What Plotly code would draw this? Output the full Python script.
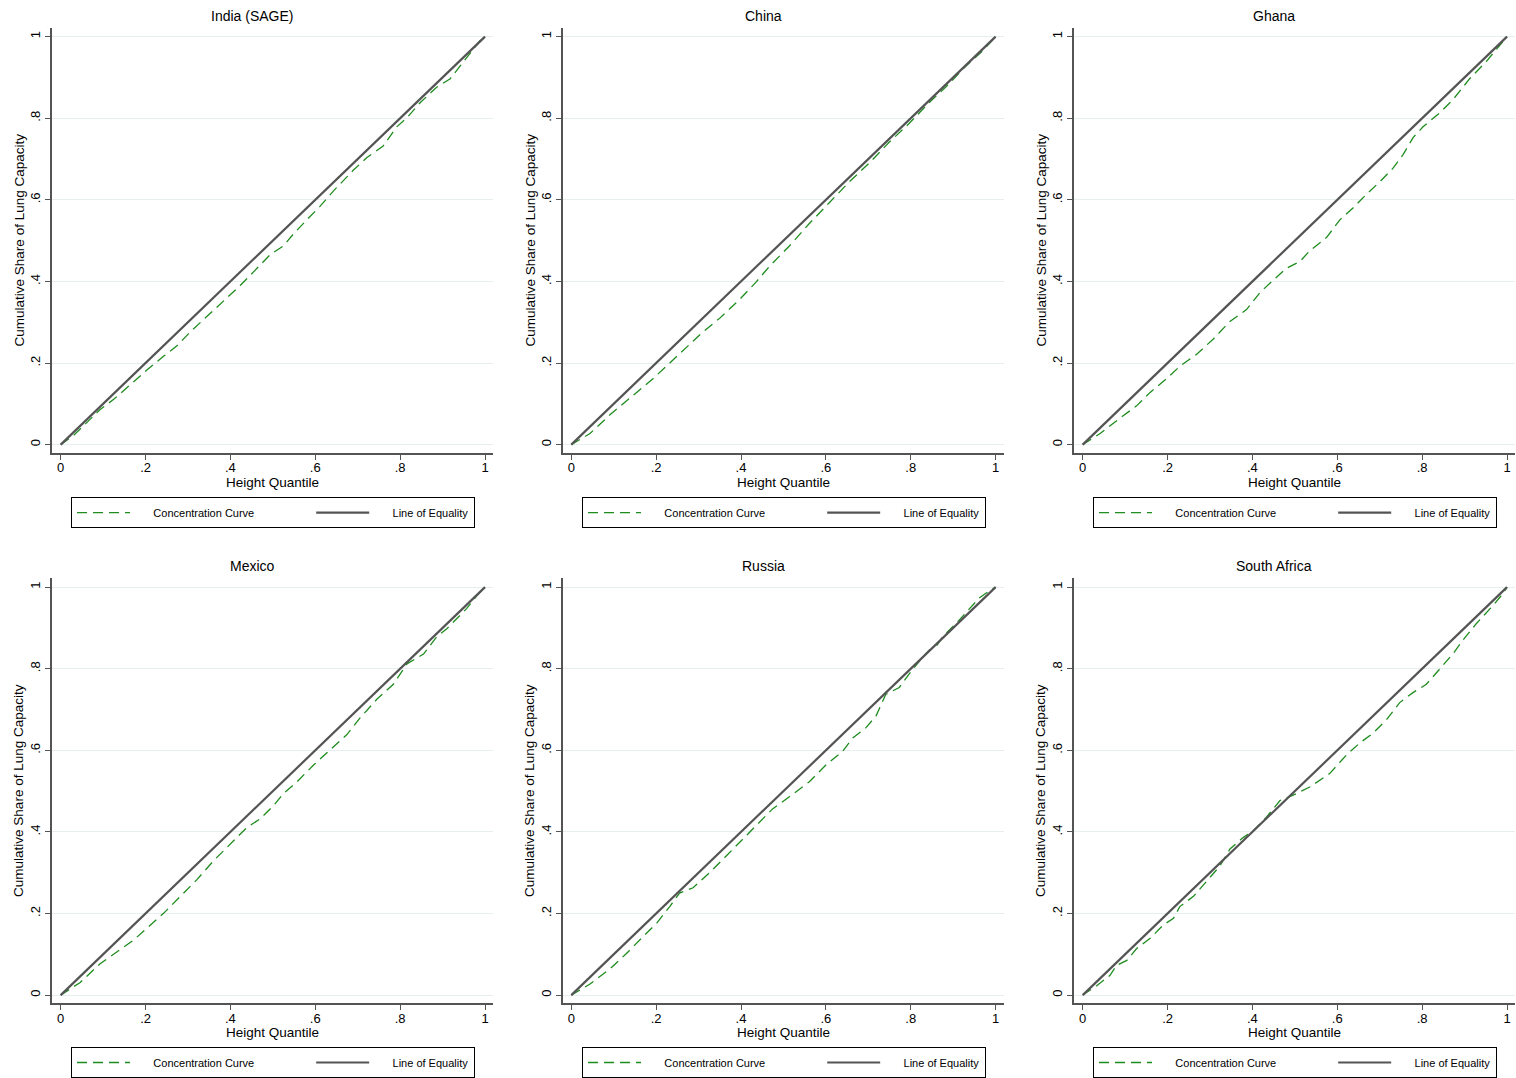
import plotly.graph_objects as go

W, H = 1516, 1078

COUNTRIES = ["India (SAGE)", "China", "Ghana", "Mexico", "Russia", "South Africa"]

INDIA_X = [0, 0.03, 0.093, 0.125, 0.172, 0.203, 0.243, 0.274, 0.305, 0.345, 0.392, 0.423, 0.455, 0.478, 0.494, 0.525, 0.549, 0.58, 0.611, 0.643, 0.69, 0.721, 0.76, 0.792, 0.815, 0.847, 0.886, 0.918, 0.949, 0.988, 1]
INDIA_Y = [0, 0.022, 0.086, 0.111, 0.154, 0.183, 0.217, 0.242, 0.276, 0.314, 0.361, 0.39, 0.424, 0.449, 0.466, 0.487, 0.517, 0.551, 0.584, 0.622, 0.673, 0.703, 0.732, 0.779, 0.8, 0.838, 0.876, 0.897, 0.939, 0.99, 1]

CHINA_X = [0, 0.044, 0.091, 0.122, 0.154, 0.193, 0.232, 0.271, 0.31, 0.35, 0.397, 0.436, 0.467, 0.514, 0.561, 0.608, 0.655, 0.702, 0.749, 0.796, 0.843, 0.882, 0.929, 0.969, 1]
CHINA_Y = [0, 0.027, 0.073, 0.099, 0.128, 0.162, 0.2, 0.238, 0.276, 0.31, 0.356, 0.399, 0.437, 0.487, 0.542, 0.593, 0.644, 0.69, 0.741, 0.787, 0.838, 0.876, 0.927, 0.965, 1]

GHANA_X = [0, 0.041, 0.088, 0.127, 0.159, 0.198, 0.229, 0.268, 0.308, 0.347, 0.386, 0.418, 0.449, 0.48, 0.512, 0.535, 0.575, 0.606, 0.637, 0.669, 0.7, 0.731, 0.755, 0.779, 0.802, 0.841, 0.873, 0.912, 0.951, 0.991, 1]
GHANA_Y = [0, 0.027, 0.065, 0.095, 0.128, 0.162, 0.192, 0.221, 0.259, 0.302, 0.331, 0.373, 0.403, 0.432, 0.449, 0.475, 0.508, 0.551, 0.58, 0.614, 0.644, 0.677, 0.711, 0.753, 0.779, 0.813, 0.846, 0.897, 0.939, 0.99, 1]

MEXICO_X = [0, 0.046, 0.093, 0.133, 0.172, 0.203, 0.243, 0.282, 0.321, 0.36, 0.4, 0.439, 0.47, 0.502, 0.525, 0.557, 0.596, 0.635, 0.674, 0.706, 0.745, 0.784, 0.816, 0.855, 0.886, 0.91, 0.957, 0.98, 1]
MEXICO_Y = [0, 0.031, 0.077, 0.106, 0.135, 0.164, 0.201, 0.242, 0.283, 0.329, 0.37, 0.411, 0.432, 0.465, 0.494, 0.523, 0.564, 0.601, 0.638, 0.68, 0.725, 0.762, 0.812, 0.836, 0.878, 0.898, 0.948, 0.978, 1]

RUSSIA_X = [0, 0.044, 0.091, 0.13, 0.169, 0.201, 0.232, 0.255, 0.287, 0.326, 0.365, 0.404, 0.444, 0.475, 0.514, 0.561, 0.6, 0.639, 0.663, 0.694, 0.718, 0.741, 0.773, 0.796, 0.828, 0.843, 0.859, 0.875, 0.914, 0.961, 0.984, 1]
RUSSIA_Y = [0, 0.027, 0.064, 0.102, 0.143, 0.176, 0.217, 0.25, 0.263, 0.3, 0.341, 0.382, 0.424, 0.457, 0.486, 0.523, 0.564, 0.597, 0.63, 0.655, 0.684, 0.737, 0.754, 0.787, 0.828, 0.845, 0.853, 0.878, 0.919, 0.973, 0.99, 1]

SAFRICA_X = [0, 0.033, 0.064, 0.08, 0.104, 0.127, 0.159, 0.19, 0.214, 0.229, 0.261, 0.292, 0.323, 0.347, 0.378, 0.402, 0.433, 0.465, 0.496, 0.535, 0.582, 0.622, 0.653, 0.684, 0.716, 0.747, 0.779, 0.81, 0.841, 0.873, 0.896, 0.928, 0.967, 0.991, 1]
SAFRICA_Y = [0, 0.023, 0.048, 0.073, 0.085, 0.114, 0.139, 0.172, 0.188, 0.217, 0.242, 0.279, 0.316, 0.358, 0.386, 0.403, 0.436, 0.477, 0.49, 0.51, 0.543, 0.589, 0.618, 0.642, 0.675, 0.717, 0.742, 0.762, 0.799, 0.837, 0.87, 0.911, 0.955, 0.985, 1]

EQUALITY_X = [0, 1]
EQUALITY_Y = [0, 1]

TICK_VALS = [0, 0.2, 0.4, 0.6, 0.8, 1]
TICK_TEXT = ["0", ".2", ".4", ".6", ".8", "1"]

SERIES_NAMES = ["Concentration Curve", "Line of Equality"]

CURVES_X = [INDIA_X, CHINA_X, GHANA_X, MEXICO_X, RUSSIA_X, SAFRICA_X]
CURVES_Y = [INDIA_Y, CHINA_Y, GHANA_Y, MEXICO_Y, RUSSIA_Y, SAFRICA_Y]

FONT = "Liberation Sans, Arial, Helvetica, sans-serif"
GREEN = "#1e8c1e"
GRAY = "#545454"
NB = "\u00a0"

# pixel layout of plot areas
COL_PX = [(52, 493), (562.6, 1003.6), (1074, 1515)]
COL_CENTER = [252, 763, 1274]
ROW_PX = [(28, 453.3), (579, 1004.3)]
ROW_TITLE_Y = [16, 567]
ROW_XTITLE_Y = [483, 1033]
ROW_LEGEND_Y = [512.7, 1063.5]
YTITLE_X = [19, 530, 1041]
LEGEND_CX = [273, 784, 1295]

fig = go.Figure()
layout = dict(
    width=W, height=H,
    margin=dict(l=0, r=0, t=0, b=0),
    paper_bgcolor="white", plot_bgcolor="white",
    font=dict(family=FONT, color="black"),
    showlegend=True,
    annotations=[],
)

label1 = NB * 6 + SERIES_NAMES[0] + NB * 17
label2 = NB * 6 + SERIES_NAMES[1]

for i, name in enumerate(COUNTRIES):
    r, c = divmod(i, 3)
    n = "" if i == 0 else str(i + 1)
    leg = "legend" if i == 0 else f"legend{i+1}"
    fig.add_trace(go.Scatter(
        x=CURVES_X[i], y=CURVES_Y[i], mode="lines", name=label1,
        line=dict(color=GREEN, width=1.3, dash="10px,6px"),
        xaxis="x" + n, yaxis="y" + n, legend=leg,
    ))
    fig.add_trace(go.Scatter(
        x=EQUALITY_X, y=EQUALITY_Y, mode="lines", name=label2,
        line=dict(color=GRAY, width=2.2),
        xaxis="x" + n, yaxis="y" + n, legend=leg,
    ))
    x0, x1 = COL_PX[c]
    y0, y1 = ROW_PX[r]
    layout["xaxis" + n] = dict(
        domain=[x0 / W, x1 / W], anchor="y" + n, range=[-0.0205, 1.0188],
        tickvals=TICK_VALS, ticktext=TICK_TEXT, ticks="outside", ticklen=5,
        tickcolor=GRAY, showline=True, linecolor=GRAY, linewidth=1.5,
        showgrid=False, zeroline=False, tickfont=dict(size=13, family=FONT),
        ticklabelstandoff=-3,
    )
    layout["yaxis" + n] = dict(
        domain=[1 - y1 / H, 1 - y0 / H], anchor="x" + n, range=[-0.0203, 1.0213],
        tickvals=TICK_VALS, ticktext=TICK_TEXT, ticks="outside", ticklen=5,
        tickcolor=GRAY, showline=True, linecolor=GRAY, linewidth=1.5,
        showgrid=True, gridcolor="#e6eef0", gridwidth=1, zeroline=False,
        tickangle=-90, tickfont=dict(size=13, family=FONT),
    )
    layout["annotations"] += [
        dict(text=name, x=COL_CENTER[c] / W, y=1 - ROW_TITLE_Y[r] / H, xref="paper", yref="paper",
             showarrow=False, xanchor="center", yanchor="middle", font=dict(size=14, family=FONT)),
        dict(text="Height Quantile", x=(x0 + x1) / 2 / W, y=1 - ROW_XTITLE_Y[r] / H, xref="paper", yref="paper",
             showarrow=False, xanchor="center", yanchor="middle", font=dict(size=13.5, family=FONT)),
        dict(text="Cumulative Share of Lung Capacity", x=YTITLE_X[c] / W, y=1 - (y0 + y1) / 2 / H,
             xref="paper", yref="paper", textangle=-90,
             showarrow=False, xanchor="center", yanchor="middle", font=dict(size=13.5, family=FONT)),
    ]
    layout[leg] = dict(
        x=LEGEND_CX[c] / W, y=1 - ROW_LEGEND_Y[r] / H, xanchor="center", yanchor="middle",
        orientation="h", bordercolor="black", borderwidth=1, bgcolor="white",
        font=dict(size=11, family=FONT), itemwidth=53,
    )

fig.update_layout(**layout)
fig.write_html("out.html")
